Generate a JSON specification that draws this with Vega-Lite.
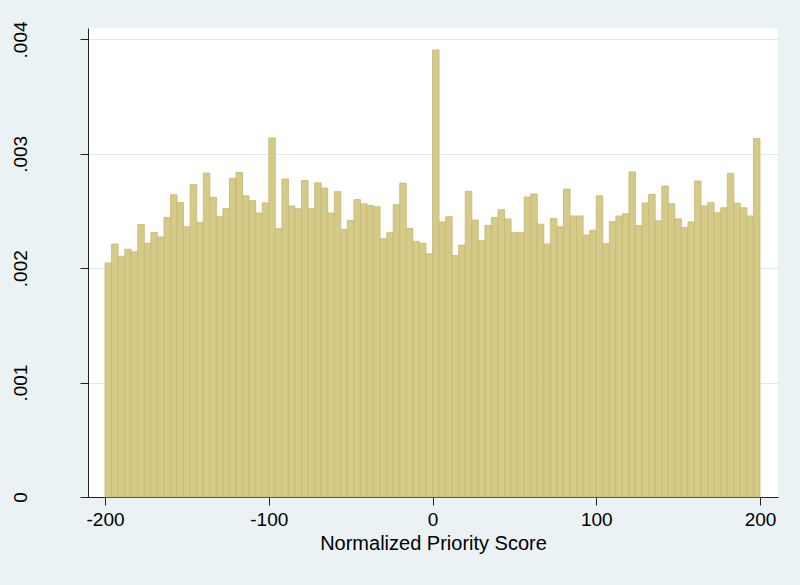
{
  "$schema": "https://vega.github.io/schema/vega-lite/v6.json",
  "width": 690,
  "height": 469,
  "autosize": {"type": "none"},
  "padding": {"left": 88, "top": 28, "right": 22, "bottom": 88},
  "background": "#EAF2F3",
  "config": {
    "view": {"fill": "white", "stroke": null},
    "font": "Liberation Sans",
    "axis": {
      "labelFont": "Liberation Sans",
      "titleFont": "Liberation Sans",
      "labelFontSize": 19,
      "titleFontSize": 20,
      "labelColor": "#000000",
      "titleColor": "#000000",
      "titleFontWeight": "normal",
      "domainColor": "#222222",
      "tickColor": "#222222",
      "tickSize": 8,
      "domainWidth": 1,
      "tickWidth": 1
    }
  },
  "data": {
    "values": [
      {"start": -200, "end": -196, "density": 0.002046},
      {"start": -196, "end": -192, "density": 0.002212},
      {"start": -192, "end": -188, "density": 0.002104},
      {"start": -188, "end": -184, "density": 0.002166},
      {"start": -184, "end": -180, "density": 0.002143},
      {"start": -180, "end": -176, "density": 0.002382},
      {"start": -176, "end": -172, "density": 0.002219},
      {"start": -172, "end": -168, "density": 0.002313},
      {"start": -168, "end": -164, "density": 0.002274},
      {"start": -164, "end": -160, "density": 0.002444},
      {"start": -160, "end": -156, "density": 0.002643},
      {"start": -156, "end": -152, "density": 0.002574},
      {"start": -152, "end": -148, "density": 0.002362},
      {"start": -148, "end": -144, "density": 0.002731},
      {"start": -144, "end": -140, "density": 0.002401},
      {"start": -140, "end": -136, "density": 0.002832},
      {"start": -136, "end": -132, "density": 0.00262},
      {"start": -132, "end": -128, "density": 0.002453},
      {"start": -128, "end": -124, "density": 0.002522},
      {"start": -124, "end": -120, "density": 0.002786},
      {"start": -120, "end": -116, "density": 0.002838},
      {"start": -116, "end": -112, "density": 0.002633},
      {"start": -112, "end": -108, "density": 0.002591},
      {"start": -108, "end": -104, "density": 0.002483},
      {"start": -104, "end": -100, "density": 0.002571},
      {"start": -100, "end": -96, "density": 0.003139},
      {"start": -96, "end": -92, "density": 0.002346},
      {"start": -92, "end": -88, "density": 0.00278},
      {"start": -88, "end": -84, "density": 0.002545},
      {"start": -84, "end": -80, "density": 0.002519},
      {"start": -80, "end": -76, "density": 0.002767},
      {"start": -76, "end": -72, "density": 0.002519},
      {"start": -72, "end": -68, "density": 0.002747},
      {"start": -68, "end": -64, "density": 0.002701},
      {"start": -64, "end": -60, "density": 0.002483},
      {"start": -60, "end": -56, "density": 0.002669},
      {"start": -56, "end": -52, "density": 0.002339},
      {"start": -52, "end": -48, "density": 0.002418},
      {"start": -48, "end": -44, "density": 0.0026},
      {"start": -44, "end": -40, "density": 0.002564},
      {"start": -40, "end": -36, "density": 0.002548},
      {"start": -36, "end": -32, "density": 0.002538},
      {"start": -32, "end": -28, "density": 0.002258},
      {"start": -28, "end": -24, "density": 0.00231},
      {"start": -24, "end": -20, "density": 0.002555},
      {"start": -20, "end": -16, "density": 0.002744},
      {"start": -16, "end": -12, "density": 0.002349},
      {"start": -12, "end": -8, "density": 0.002235},
      {"start": -8, "end": -4, "density": 0.002219},
      {"start": -4, "end": 0, "density": 0.002127},
      {"start": 0, "end": 4, "density": 0.003908},
      {"start": 4, "end": 8, "density": 0.002405},
      {"start": 8, "end": 12, "density": 0.00245},
      {"start": 12, "end": 16, "density": 0.002111},
      {"start": 16, "end": 20, "density": 0.002202},
      {"start": 20, "end": 24, "density": 0.002672},
      {"start": 24, "end": 28, "density": 0.002421},
      {"start": 28, "end": 32, "density": 0.002241},
      {"start": 32, "end": 36, "density": 0.002375},
      {"start": 36, "end": 40, "density": 0.002444},
      {"start": 40, "end": 44, "density": 0.002512},
      {"start": 44, "end": 48, "density": 0.002431},
      {"start": 48, "end": 52, "density": 0.002313},
      {"start": 52, "end": 56, "density": 0.00231},
      {"start": 56, "end": 60, "density": 0.002623},
      {"start": 60, "end": 64, "density": 0.002649},
      {"start": 64, "end": 68, "density": 0.002385},
      {"start": 68, "end": 72, "density": 0.002212},
      {"start": 72, "end": 76, "density": 0.002434},
      {"start": 76, "end": 80, "density": 0.002362},
      {"start": 80, "end": 84, "density": 0.002692},
      {"start": 84, "end": 88, "density": 0.002457},
      {"start": 88, "end": 92, "density": 0.002457},
      {"start": 92, "end": 96, "density": 0.00229},
      {"start": 96, "end": 100, "density": 0.002333},
      {"start": 100, "end": 104, "density": 0.002633},
      {"start": 104, "end": 108, "density": 0.002215},
      {"start": 108, "end": 112, "density": 0.002408},
      {"start": 112, "end": 116, "density": 0.002457},
      {"start": 116, "end": 120, "density": 0.002476},
      {"start": 120, "end": 124, "density": 0.002842},
      {"start": 124, "end": 128, "density": 0.002372},
      {"start": 128, "end": 132, "density": 0.002571},
      {"start": 132, "end": 136, "density": 0.002646},
      {"start": 136, "end": 140, "density": 0.002414},
      {"start": 140, "end": 144, "density": 0.002718},
      {"start": 144, "end": 148, "density": 0.002564},
      {"start": 148, "end": 152, "density": 0.002431},
      {"start": 152, "end": 156, "density": 0.002356},
      {"start": 156, "end": 160, "density": 0.002405},
      {"start": 160, "end": 164, "density": 0.002763},
      {"start": 164, "end": 168, "density": 0.002545},
      {"start": 168, "end": 172, "density": 0.002574},
      {"start": 172, "end": 176, "density": 0.002486},
      {"start": 176, "end": 180, "density": 0.002529},
      {"start": 180, "end": 184, "density": 0.002829},
      {"start": 184, "end": 188, "density": 0.002568},
      {"start": 188, "end": 192, "density": 0.002529},
      {"start": 192, "end": 196, "density": 0.002457},
      {"start": 196, "end": 200, "density": 0.003135}
    ]
  },
  "mark": {"type": "rect", "fill": "#D6CA89", "stroke": "#C4B874", "strokeWidth": 0.8},
  "encoding": {
    "x": {
      "field": "start",
      "type": "quantitative",
      "scale": {"domain": [-210.4, 211], "nice": false, "zero": false},
      "axis": {
        "values": [-200, -100, 0, 100, 200],
        "labelExpr": "'' + datum.value",
        "grid": false,
        "title": "Normalized Priority Score",
        "labelPadding": 5,
        "titlePadding": 4,
        "labelFlush": false
      }
    },
    "x2": {"field": "end"},
    "y": {
      "field": "density",
      "type": "quantitative",
      "scale": {"domain": [0, 0.0041], "nice": false},
      "axis": {
        "values": [0, 0.001, 0.002, 0.003, 0.004],
        "labelExpr": "datum.value == 0 ? '0' : substring(format(datum.value, '.3f'), 1)",
        "labelAngle": -90,
        "labelAlign": "center",
        "labelBaseline": "bottom",
        "labelPadding": 50,
        "labelFlush": false,
        "grid": true,
        "gridColor": "#DDE9EF",
        "gridWidth": 1,
        "title": null
      }
    },
    "y2": {"datum": 0}
  }
}
